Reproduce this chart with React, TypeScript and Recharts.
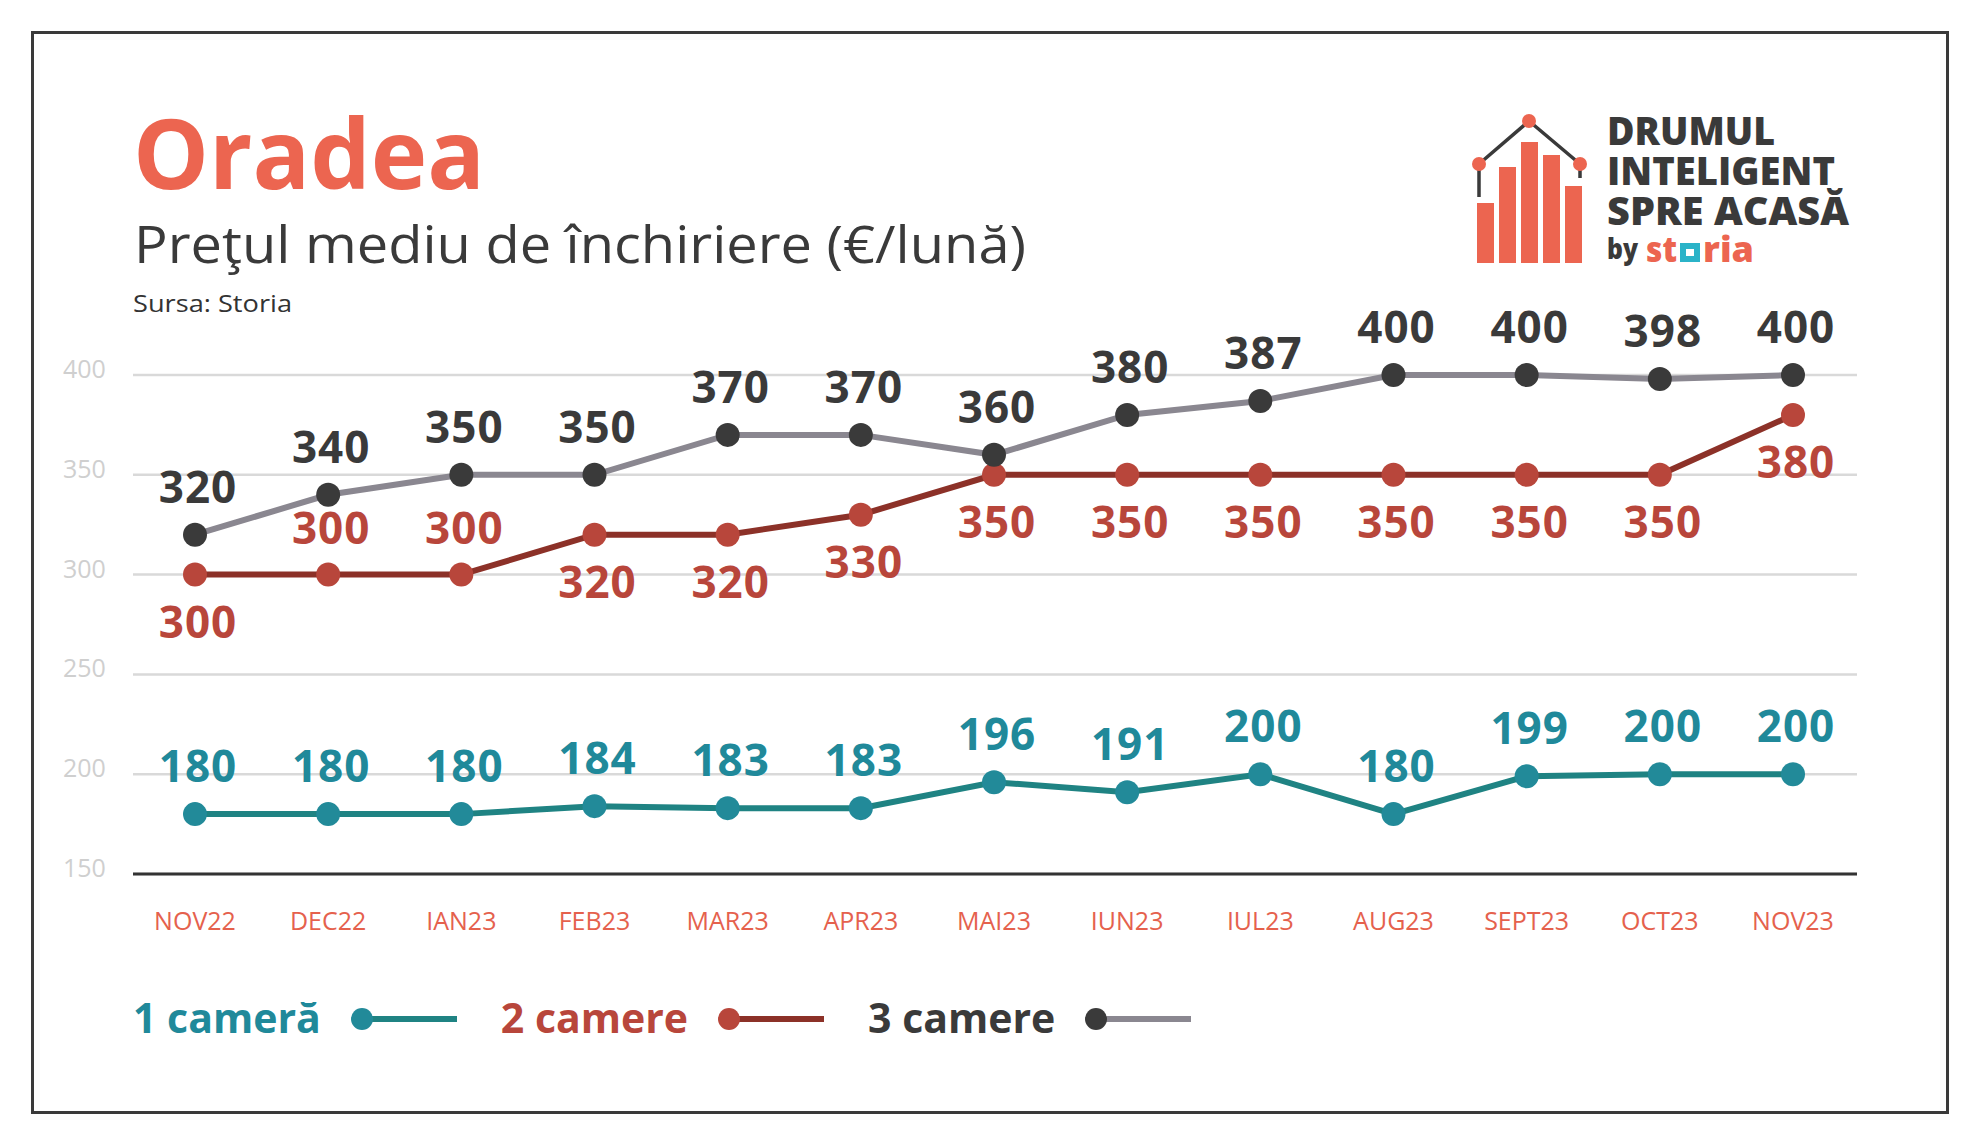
import React from 'react';
import { LineChart, Line, XAxis, YAxis, CartesianGrid, LabelList, Legend } from 'recharts';

const months = ['NOV22', 'DEC22', 'IAN23', 'FEB23', 'MAR23', 'APR23', 'MAI23', 'IUN23', 'IUL23', 'AUG23', 'SEPT23', 'OCT23', 'NOV23'];
const oneRoom = [180, 180, 180, 184, 183, 183, 196, 191, 200, 180, 199, 200, 200];
const twoRooms = [300, 300, 300, 320, 320, 330, 350, 350, 350, 350, 350, 350, 380];
const threeRooms = [320, 340, 350, 350, 370, 370, 360, 380, 387, 400, 400, 398, 400];
const yTicks = [150, 200, 250, 300, 350, 400];

const data = months.map((month, i) => ({
  month,
  one: oneRoom[i],
  two: twoRooms[i],
  three: threeRooms[i],
}));

const FONT = '"Open Sans", sans-serif';
const CORAL = '#ec6550';
const DARK = '#3a3a3a';

const SERIES = [
  { key: 'one', name: '1 cameră', line: '#1f8383', dot: '#228a99', text: '#20899a' },
  { key: 'two', name: '2 camere', line: '#8c3128', dot: '#b8463b', text: '#b8463b' },
  { key: 'three', name: '3 camere', line: '#8a8790', dot: '#3a3a3a', text: '#3a3a3a' },
];

// 2 camere labels go under the points, except these two months
const TWO_ABOVE = [1, 2];

const makeLabel = (color: string, side: (i: number) => number) => (props: any) => {
  const { x, y, value, index } = props;
  const cy = y + side(index) * 47;
  return (
    <text
      x={x + 3}
      y={cy + 16}
      fill={color}
      fontSize={44}
      fontWeight={700}
      fontFamily={FONT}
      textAnchor="middle"
      letterSpacing={1}
    >
      {value}
    </text>
  );
};

const XTick = ({ x, y, payload }: any) => (
  <text x={x} y={y + 56} textAnchor="middle" fill="#e5614d" fontSize={25} fontFamily={FONT}>
    {payload.value}
  </text>
);

const YTick = ({ x, y, payload }: any) => (
  <text x={x - 70} y={y + 3} textAnchor="start" fill="#cfcfcf" fontSize={25} fontFamily={FONT}>
    {payload.value}
  </text>
);

const renderLegend = (props: any) => {
  const payload = props.payload || [];
  return (
    <div style={{ display: 'flex', alignItems: 'center', fontFamily: FONT }}>
      {SERIES.map((s) => {
        const entry = payload.find((p: any) => p.dataKey === s.key);
        return (
          <div key={s.key} style={{ display: 'flex', alignItems: 'center', marginRight: 40 }}>
            <span
              style={{
                color: s.text,
                fontSize: 41,
                fontWeight: 700,
                lineHeight: '52px',
                whiteSpace: 'nowrap',
              }}
            >
              {entry ? entry.value : s.name}
            </span>
            <svg width={110} height={30} style={{ marginLeft: 30 }}>
              <line x1={11} y1={17} x2={106} y2={17} stroke={s.line} strokeWidth={6} />
              <circle cx={11} cy={17} r={11} fill={s.dot} />
            </svg>
          </div>
        );
      })}
    </div>
  );
};

const Logo = () => (
  <g transform="translate(-7,0)">
    <rect x={1484} y={203} width={17} height={60} fill={CORAL} />
    <rect x={1506} y={167} width={17} height={96} fill={CORAL} />
    <rect x={1528} y={142} width={17} height={121} fill={CORAL} />
    <rect x={1550} y={155} width={17} height={108} fill={CORAL} />
    <rect x={1572} y={186} width={17} height={77} fill={CORAL} />
    <polyline points="1486,197 1486,164 1536,121 1587,164 1587,178" fill="none" stroke={DARK} strokeWidth={3.5} />
    <circle cx={1486} cy={164} r={7} fill={CORAL} />
    <circle cx={1536} cy={121} r={7} fill={CORAL} />
    <circle cx={1587} cy={164} r={7} fill={CORAL} />
    <text x={1614} y={145} fontSize={38} fontWeight={800} fill={DARK} fontFamily={FONT} textLength={168} lengthAdjust="spacingAndGlyphs">DRUMUL</text>
    <text x={1614} y={185} fontSize={38} fontWeight={800} fill={DARK} fontFamily={FONT} textLength={228} lengthAdjust="spacingAndGlyphs">INTELIGENT</text>
    <text x={1614} y={225} fontSize={38} fontWeight={800} fill={DARK} fontFamily={FONT} textLength={242} lengthAdjust="spacingAndGlyphs">SPRE ACASĂ</text>
    <text x={1614} y={259} fontSize={28} fontWeight={800} fill={DARK} fontFamily={FONT} textLength={31} lengthAdjust="spacingAndGlyphs">by</text>
    <text x={1653} y={262} fontSize={35} fontWeight={800} fill={CORAL} fontFamily={FONT} textLength={31} lengthAdjust="spacingAndGlyphs">st</text>
    <rect x={1687} y={243} width={20} height={19} fill="#2bb3c8" />
    <rect x={1693} y={249} width={8} height={7} fill="#ffffff" />
    <text x={1710} y={262} fontSize={35} fontWeight={800} fill={CORAL} fontFamily={FONT} textLength={51} lengthAdjust="spacingAndGlyphs">ria</text>
  </g>
);

export default function App() {
  return (
    <div style={{ position: 'absolute', left: 0, top: 0, width: 1979, height: 1146, background: '#ffffff', overflow: 'hidden' }}>
      <div
        style={{
          position: 'absolute',
          left: 31,
          top: 31,
          width: 1912,
          height: 1077,
          border: '3px solid #3a3a3a',
        }}
      />
      <div style={{ position: 'absolute', left: 0, top: 0 }}>
        <LineChart width={1979} height={1146} data={data} margin={{ top: 375, right: 122, bottom: 212, left: 53 }}>
          <CartesianGrid vertical={false} stroke="#d9d9d9" strokeWidth={2.5} />
          <XAxis
            dataKey="month"
            scale="point"
            padding={{ left: 62, right: 64 }}
            axisLine={{ stroke: '#333333', strokeWidth: 3 }}
            tickLine={false}
            tickSize={0}
            tickMargin={0}
            interval={0}
            height={60}
            tick={<XTick />}
          />
          <YAxis
            domain={[150, 400]}
            ticks={yTicks}
            axisLine={false}
            tickLine={false}
            tickSize={0}
            tickMargin={0}
            interval={0}
            width={80}
            tick={<YTick />}
          />
          <Legend
            verticalAlign="middle"
            align="center"
            content={renderLegend}
            wrapperStyle={{ top: 991, left: 133, width: 'auto' }}
          />
          {SERIES.map((s) => (
            <Line
              key={s.key}
              dataKey={s.key}
              name={s.name}
              type="linear"
              stroke={s.line}
              strokeWidth={6}
              dot={{ r: 12, fill: s.dot, stroke: s.dot, strokeWidth: 0 }}
              activeDot={false}
              isAnimationActive={false}
            >
              <LabelList
                dataKey={s.key}
                content={makeLabel(
                  s.text,
                  s.key === 'two' ? (i: number) => (TWO_ABOVE.includes(i) ? -1 : 1) : () => -1.02
                )}
              />
            </Line>
          ))}
        </LineChart>
      </div>
      <svg width={1979} height={1146} style={{ position: 'absolute', left: 0, top: 0, pointerEvents: 'none' }}>
        <text x={133} y={189} fontSize={97} fontWeight={700} fill={CORAL} fontFamily={FONT} textLength={352} lengthAdjust="spacingAndGlyphs">
          Oradea
        </text>
        <text x={134} y={263} fontSize={51} fontWeight={400} fill={DARK} fontFamily={FONT} textLength={892} lengthAdjust="spacingAndGlyphs">
          Preţul mediu de închiriere (€/lună)
        </text>
        <text x={133} y={312} fontSize={24} fontWeight={400} fill="#333333" fontFamily={FONT} textLength={159} lengthAdjust="spacingAndGlyphs">
          Sursa: Storia
        </text>
        <Logo />
      </svg>
    </div>
  );
}
